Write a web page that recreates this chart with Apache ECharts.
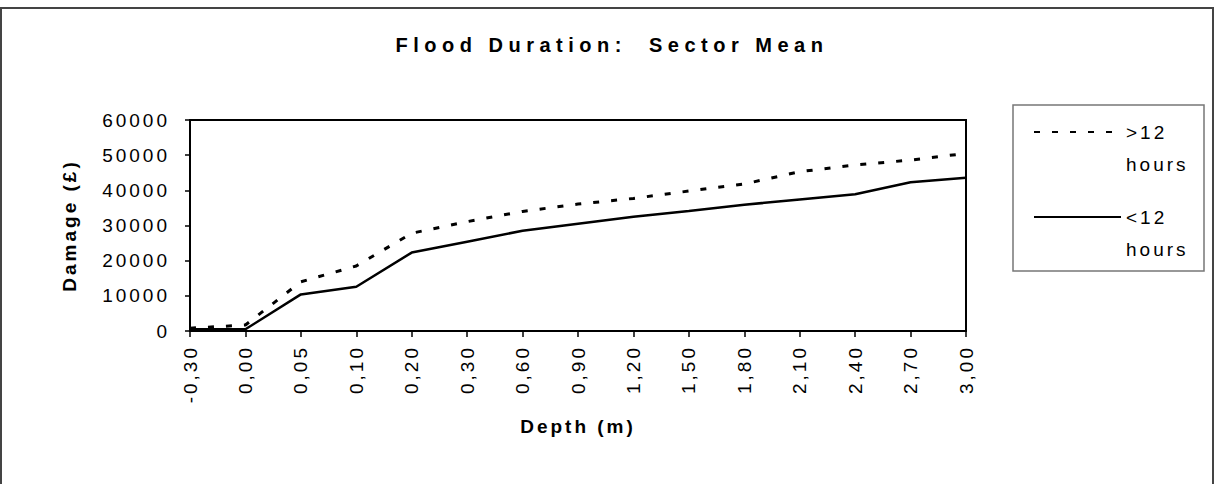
<!DOCTYPE html>
<html>
<head>
<meta charset="utf-8">
<script src="https://cdn.jsdelivr.net/npm/echarts@6/dist/echarts.min.js"></script>
<style>
  html, body { margin: 0; padding: 0; background: #fff; }
  #main { width: 1227px; height: 484px; }
  /* the original export has wide letter spacing on every text */
  #main text { letter-spacing: 3px; }
  #main text[style*="20px"] { letter-spacing: 5.5px; }
</style>
</head>
<body>
<div id="main"></div>
<script>
// Chart data
const depths = ["-0,30", "0,00", "0,05", "0,10", "0,20", "0,30", "0,60", "0,90",
  "1,20", "1,50", "1,80", "2,10", "2,40", "2,70", "3,00"];
const over12 = [800, 1700, 14000, 18500, 27800, 31100, 34000, 36100,
  37700, 39800, 41800, 45300, 47200, 48600, 50500];
const under12 = [500, 500, 10400, 12600, 22300, 25400, 28500, 30500,
  32500, 34100, 35900, 37400, 38900, 42300, 43600];
const seriesNames = [">12 hours", "<12 hours"];

var myChart = echarts.init(document.getElementById("main"), null, { renderer: "svg" });

const font = "'Liberation Sans', Arial, sans-serif";

var option = {
  animation: false,
  backgroundColor: "#fff",
  textStyle: { fontFamily: font, color: "#000" },
  title: {
    text: "Flood Duration:  Sector Mean",
    left: 607,
    top: 30,
    textAlign: "center",
    textStyle: { fontSize: 20, fontWeight: "bold", color: "#000", fontFamily: font },
  },
  grid: {
    left: 190,
    right: 261,
    top: 120,
    bottom: 153,
    show: true,
    borderColor: "#000",
    borderWidth: 2,
    backgroundColor: "#fff",
  },
  legend: {
    orient: "vertical",
    left: 1028,
    top: 79,
    itemWidth: 87,
    itemHeight: 14,
    itemGap: -11,
    data: seriesNames,
    // leading blank line keeps the first text line level with the icon
    formatter: (name) => "\n" + name,
    itemStyle: { opacity: 0 },
    textStyle: {
      fontSize: 19,
      color: "#000",
      fontFamily: font,
      width: 60,
      overflow: "break",
      lineHeight: 32,
    },
  },
  xAxis: {
    type: "category",
    data: depths,
    boundaryGap: false,
    name: "Depth (m)",
    nameLocation: "middle",
    nameGap: 86,
    nameTextStyle: { fontSize: 19, fontWeight: "bold", color: "#000", fontFamily: font },
    axisLine: { lineStyle: { color: "#000", width: 2 } },
    axisTick: { length: 6, lineStyle: { color: "#000", width: 1.5 } },
    axisLabel: { rotate: 90, fontSize: 19, color: "#000", margin: 14, fontFamily: font },
  },
  yAxis: {
    type: "value",
    min: 0,
    max: 60000,
    interval: 10000,
    name: "Damage (£)",
    nameLocation: "middle",
    nameGap: 111,
    nameTextStyle: { fontSize: 19, fontWeight: "bold", color: "#000", fontFamily: font },
    axisLine: { show: true, lineStyle: { color: "#000", width: 2 } },
    axisTick: { show: true, length: 5, lineStyle: { color: "#000", width: 1.5 } },
    axisLabel: {
      fontSize: 19,
      color: "#000",
      margin: 20,
      fontFamily: font,
      formatter: (v) => String(v),
    },
    splitLine: { show: false },
  },
  series: [
    {
      name: seriesNames[0],
      type: "line",
      data: over12,
      symbol: "none",
      lineStyle: { color: "#000", width: 3, type: [6, 12] },
      itemStyle: { color: "#000" },
    },
    {
      name: seriesNames[1],
      type: "line",
      data: under12,
      symbol: "none",
      lineStyle: { color: "#000", width: 2.5 },
      itemStyle: { color: "#000" },
    },
  ],
  graphic: [
    // outer frame of the chart
    {
      type: "rect",
      shape: { x: 1, y: 8, width: 1212, height: 500 },
      style: { fill: "none", stroke: "#444", lineWidth: 2 },
      silent: true,
    },
    // legend box
    {
      type: "rect",
      shape: { x: 1013, y: 105, width: 191, height: 166 },
      style: { fill: "none", stroke: "#777", lineWidth: 1.5 },
      silent: true,
    },
  ],
};

myChart.setOption(option);
</script>
</body>
</html>
